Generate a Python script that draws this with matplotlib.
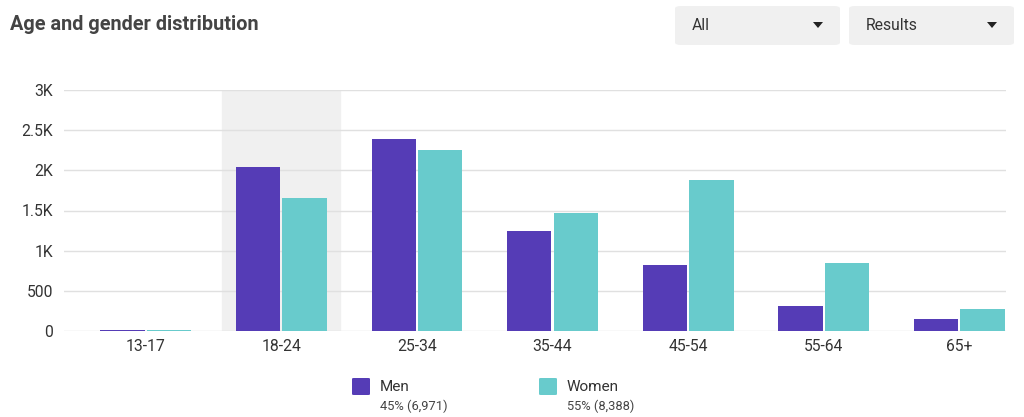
import matplotlib.pyplot as plt
import numpy as np
from matplotlib.patches import FancyBboxPatch, Polygon

plt.rcParams['font.family'] = ['Roboto', 'DejaVu Sans']

# data
age_groups = ["13-17", "18-24", "25-34", "35-44", "45-54", "55-64", "65+"]
men = [11, 2040, 2390, 1250, 820, 315, 145]
women = [8, 1660, 2250, 1475, 1875, 850, 270]
y_ticks = [0, 500, 1000, 1500, 2000, 2500, 3000]
y_tick_labels = ["0", "500", "1K", "1.5K", "2K", "2.5K", "3K"]
highlight = "18-24"
legend_names = ["Men", "Women"]
legend_stats = ["45% (6,971)", "55% (8,388)"]
dropdowns = ["All", "Results"]

men_color = "#553cb6"
women_color = "#68cbcc"

W, H = 1024, 417
fig = plt.figure(figsize=(W / 100, H / 100), dpi=100)
ax = fig.add_axes([64 / W, 1 - 331 / H, 942 / W, 241 / H])

x = np.arange(len(age_groups))
w = 0.327

hi = age_groups.index(highlight)
ax.axvspan(hi - 0.435, hi + 0.435, color="#f0f0f0", zorder=0)

ax.bar(x - w / 2 - 0.008, men, width=w, color=men_color, zorder=3)
ax.bar(x + w / 2 + 0.008, women, width=w, color=women_color, zorder=3)

ax.set_xlim(-0.603, 6.344)
ax.set_ylim(0, 3000)
ax.set_yticks(y_ticks)
ax.set_yticklabels(y_tick_labels)
ax.set_xticks(x)
ax.set_xticklabels(age_groups)
ax.grid(axis="y", color="#e0e0e0", linewidth=1, zorder=1)
ax.set_axisbelow(True)
for s in ax.spines.values():
    s.set_visible(False)
ax.tick_params(axis="both", length=0, labelsize=11.3, colors="#333333")
ax.tick_params(axis="y", pad=8)
ax.tick_params(axis="x", pad=6)

# title
fig.text(10 / W, 1 - 25 / H, "Age and gender distribution",
         fontsize=14.3, fontweight="bold", color="#444444", va="center")

# dropdown boxes
boxes = [(675, 840), (849, 1014)]
for (x0, x1), label in zip(boxes, dropdowns):
    fig.patches.append(FancyBboxPatch(
        (x0 / W, 1 - 45 / H), (x1 - x0) / W, 39 / H,
        boxstyle="round,pad=0,rounding_size=0.006",
        transform=fig.transFigure, facecolor="#f0f0f0", edgecolor="none"))
    fig.text((x0 + 17) / W, 1 - 25 / H, label, fontsize=11.3,
             color="#333333", va="center")
    tx = x1 - 22
    fig.patches.append(Polygon(
        [((tx - 5) / W, 1 - 22 / H), ((tx + 5) / W, 1 - 22 / H),
         (tx / W, 1 - 28 / H)], closed=True,
        transform=fig.transFigure, facecolor="#222222", edgecolor="none"))

# legend
leg_x = [352, 539]
colors = [men_color, women_color]
for lx, name, stat, c in zip(leg_x, legend_names, legend_stats, colors):
    fig.patches.append(FancyBboxPatch(
        (lx / W, 1 - 395 / H), 18 / W, 17 / H,
        boxstyle="round,pad=0,rounding_size=0.002",
        transform=fig.transFigure, facecolor=c, edgecolor="none"))
    fig.text((lx + 28) / W, 1 - 387 / H, name, fontsize=11,
             color="#333333", va="center")
    fig.text((lx + 28) / W, 1 - 406 / H, stat, fontsize=9.3,
             color="#444444", va="center")

fig.savefig("out.png", dpi=100, facecolor="white")
